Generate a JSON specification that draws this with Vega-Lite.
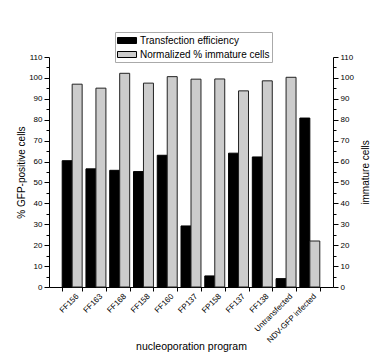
{
  "$schema": "https://vega.github.io/schema/vega-lite/v6.json",
  "width": 284,
  "height": 230,
  "autosize": {"type": "none"},
  "padding": {"left": 49, "top": 57, "right": 55, "bottom": 73},
  "background": "white",
  "config": {
    "font": "Liberation Sans",
    "view": {"stroke": null},
    "axis": {
      "domainColor": "#000",
      "tickColor": "#000",
      "labelColor": "#000",
      "titleColor": "#000",
      "grid": false,
      "labelFont": "Liberation Sans",
      "titleFont": "Liberation Sans",
      "titleFontWeight": "normal"
    },
    "legend": {"labelFont": "Liberation Sans"}
  },
  "data": {
    "values": [
      {"program": "FF156", "series": "Transfection efficiency", "value": 60.4},
      {"program": "FF163", "series": "Transfection efficiency", "value": 56.5},
      {"program": "FF168", "series": "Transfection efficiency", "value": 55.8},
      {"program": "FF158", "series": "Transfection efficiency", "value": 55.2},
      {"program": "FF160", "series": "Transfection efficiency", "value": 63.0},
      {"program": "FP137", "series": "Transfection efficiency", "value": 29.2},
      {"program": "FP158", "series": "Transfection efficiency", "value": 5.3},
      {"program": "FF137", "series": "Transfection efficiency", "value": 64.0},
      {"program": "FF138", "series": "Transfection efficiency", "value": 62.2},
      {"program": "Untransfected", "series": "Transfection efficiency", "value": 4.0},
      {"program": "NDV-GFP infected", "series": "Transfection efficiency", "value": 80.8},
      {"program": "FF156", "series": "Normalized % immature cells", "value": 97.0},
      {"program": "FF163", "series": "Normalized % immature cells", "value": 95.1},
      {"program": "FF168", "series": "Normalized % immature cells", "value": 102.2},
      {"program": "FF158", "series": "Normalized % immature cells", "value": 97.5},
      {"program": "FF160", "series": "Normalized % immature cells", "value": 100.6},
      {"program": "FP137", "series": "Normalized % immature cells", "value": 99.4},
      {"program": "FP158", "series": "Normalized % immature cells", "value": 99.5},
      {"program": "FF137", "series": "Normalized % immature cells", "value": 93.8},
      {"program": "FF138", "series": "Normalized % immature cells", "value": 98.6},
      {"program": "Untransfected", "series": "Normalized % immature cells", "value": 100.3},
      {"program": "NDV-GFP infected", "series": "Normalized % immature cells", "value": 22.0}
    ]
  },
  "encoding": {
    "x": {
      "field": "program",
      "type": "nominal",
      "sort": null,
      "scale": {"paddingInner": 0.16, "paddingOuter": 0.555},
      "axis": {
        "title": "nucleoporation program",
        "labelAngle": -45,
        "labelAlign": "right",
        "labelBaseline": "middle",
        "labelFontSize": 8,
        "labelPadding": 4,
        "labelOffset": 5,
        "tickBand": "extent",
        "tickSize": 4,
        "titleFontSize": 10.5,
        "titleY": 62,
        "titleBaseline": "alphabetic"
      }
    },
    "xOffset": {
      "field": "series",
      "type": "nominal",
      "scale": {"domain": ["Transfection efficiency", "Normalized % immature cells"], "paddingInner": 0, "paddingOuter": 0}
    },
    "color": {
      "field": "series",
      "type": "nominal",
      "scale": {"domain": ["Transfection efficiency", "Normalized % immature cells"], "range": ["#000000", "#cccccc"]},
      "legend": {
        "orient": "none",
        "legendX": 66,
        "legendY": -25,
        "title": null,
        "symbolType": "M-1,-0.5H2.17V0.5H-1Z",
        "symbolSize": 144,
        "symbolStrokeColor": "#000",
        "symbolStrokeWidth": 1,
        "symbolOpacity": 1,
        "labelFontSize": 10,
        "labelColor": "#000",
        "labelOffset": 10,
        "strokeColor": "#aaaaaa",
        "padding": 2,
        "rowPadding": 2
      }
    }
  },
  "layer": [
    {
      "transform": [{"filter": "datum.series === 'Transfection efficiency'"}],
      "mark": {"type": "bar", "stroke": "#000", "strokeWidth": 1},
      "encoding": {
        "y": {
          "field": "value",
          "type": "quantitative",
          "scale": {"domain": [0, 110], "nice": false, "zero": true},
          "axis": {
            "orient": "left",
            "values": [0, 5, 10, 15, 20, 25, 30, 35, 40, 45, 50, 55, 60, 65, 70, 75, 80, 85, 90, 95, 100, 105, 110],
            "labelExpr": "datum.value % 10 === 0 ? datum.label : ''",
            "tickSize": {"condition": {"test": "datum.value % 10 === 0", "value": 5}, "value": 3},
            "labelFontSize": 8,
            "labelPadding": 2,
            "title": "% GFP-positive cells",
            "titleFontSize": 10,
            "titleAngle": -90,
            "titleX": -28,
            "titleY": 115,
            "titleAlign": "center",
            "titleBaseline": "middle"
          }
        }
      }
    },
    {
      "transform": [{"filter": "datum.series === 'Normalized % immature cells'"}],
      "mark": {"type": "bar", "stroke": "#222", "strokeWidth": 1},
      "encoding": {
        "y": {
          "field": "value",
          "type": "quantitative",
          "scale": {"domain": [0, 110], "nice": false, "zero": true},
          "axis": {
            "orient": "right",
            "values": [0, 5, 10, 15, 20, 25, 30, 35, 40, 45, 50, 55, 60, 65, 70, 75, 80, 85, 90, 95, 100, 105, 110],
            "labelExpr": "datum.value % 10 === 0 ? datum.label : ''",
            "tickSize": {"condition": {"test": "datum.value % 10 === 0", "value": 5}, "value": 3},
            "labelFontSize": 8,
            "labelPadding": 2,
            "title": "immature cells",
            "titleFontSize": 10,
            "titleAngle": -90,
            "titleX": 32,
            "titleY": 115,
            "titleAlign": "center",
            "titleBaseline": "middle"
          }
        }
      }
    }
  ],
  "resolve": {"axis": {"y": "independent"}}
}
